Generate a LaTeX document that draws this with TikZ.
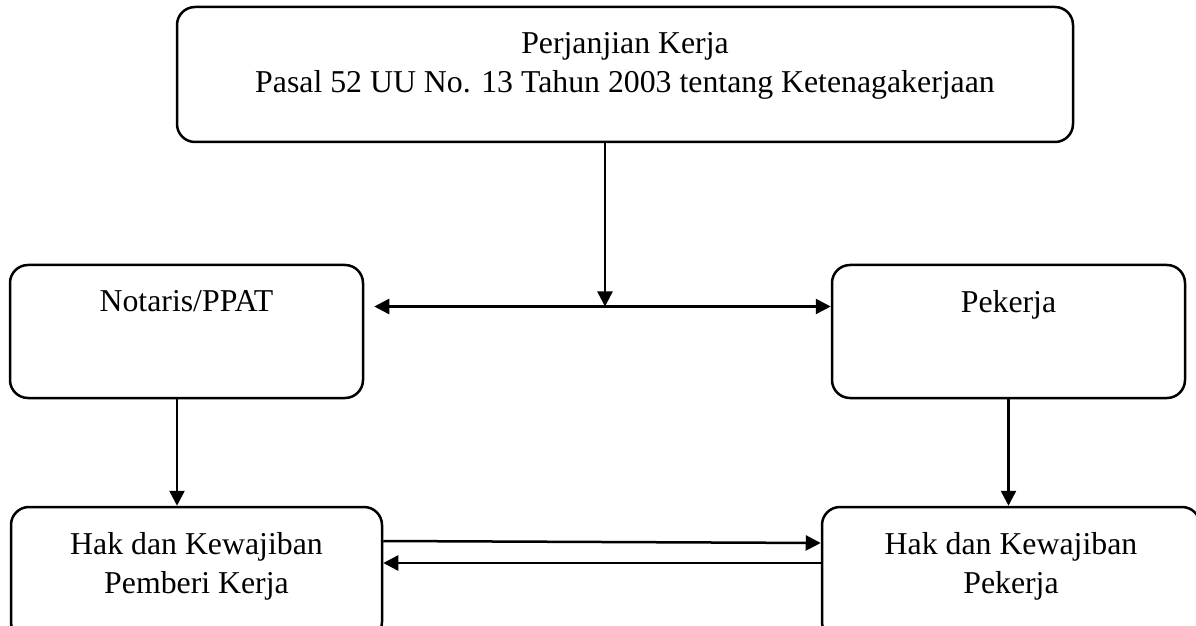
\documentclass[tikz,border=0pt]{standalone}
\usepackage{fontspec}
\setmainfont{Liberation Serif}
\usetikzlibrary{arrows.meta,positioning}
\tikzset{
  kotak/.style={draw, line width=1.25pt, rounded corners=9pt, inner sep=0pt},
  teks/.style={align=center, inner sep=0pt, font=\fontsize{15.9}{19.5}\selectfont},
  panah/.style={line width=1.25pt, -{Triangle[length=7.5pt,width=7.5pt]}},
}
\begin{document}
\begin{tikzpicture}[x=0.5pt,y=-0.5pt]
\useasboundingbox (0,0) rectangle (1196,626);
% kotak-kotak
\node[kotak, minimum width=448pt, minimum height=67.5pt] (perjanjian) at (625,74.5) {};
\node[kotak, minimum width=176.5pt, minimum height=66.5pt] (notaris) at (186.5,331.5) {};
\node[kotak, minimum width=176.5pt, minimum height=66.5pt] (pekerja) at (1008.5,331.5) {};
\node[kotak, minimum width=185.5pt, minimum height=66.5pt] (hakpemberi) at (196.5,573.5) {};
\node[kotak, minimum width=189pt, minimum height=66.5pt] (hakpekerja) at (1011,573.5) {};
% teks
\node[teks, below=13pt of perjanjian.north] (tperjanjian) {Perjanjian Kerja\\Pasal 52 UU No. 13 Tahun 2003 tentang Ketenagakerjaan};
\node[teks, below=13pt of notaris.north] (tnotaris) {Notaris/PPAT};
\node[teks, below=13pt of pekerja.north] (tpekerja) {Pekerja};
\node[teks, below=13pt of hakpemberi.north] (thakpemberi) {Hak dan Kewajiban\\Pemberi Kerja};
\node[teks, below=13pt of hakpekerja.north] (thakpekerja) {Hak dan Kewajiban\\Pekerja};
% panah
\coordinate (tengah) at (605,306.5);
\draw[panah] (perjanjian.south -| tengah) -- (tengah);
\draw[panah, {Triangle[length=7.5pt,width=7.5pt]}-{Triangle[length=7.5pt,width=7.5pt]}] ([xshift=5pt]notaris.east |- tengah) -- (pekerja.west |- tengah);
\draw[panah] (notaris.south -| 177,0) -- (hakpemberi.north -| 177,0);
\draw[panah] (pekerja.south) -- (pekerja.south |- hakpekerja.north);
\draw[panah] (hakpemberi.east |- 0,541) -- (hakpekerja.west |- 0,543);
\draw[panah] (hakpekerja.west |- 0,563) -- (hakpemberi.east |- 0,563);
\end{tikzpicture}
\end{document}
